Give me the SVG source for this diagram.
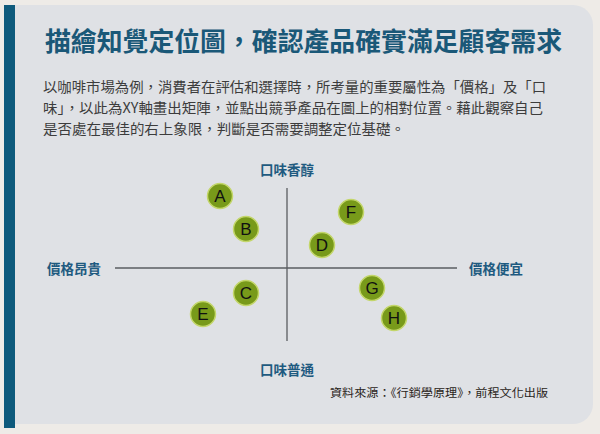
<svg xmlns="http://www.w3.org/2000/svg" width="600" height="434" viewBox="0 0 600 434">
<style>
.title{font-family:"Noto Sans CJK TC","Noto Sans CJK SC",sans-serif;font-weight:700;font-size:26px;fill:#1a5878}
.body{font-family:"Noto Sans CJK TC","Noto Sans CJK SC",sans-serif;font-size:14px;fill:#3c3c3c}
.axl{font-family:"Noto Sans CJK TC","Noto Sans CJK SC",sans-serif;font-weight:700;font-size:13.5px;fill:#1e5a80}
.src{font-family:"Noto Sans CJK TC","Noto Sans CJK SC",sans-serif;font-size:11.5px;fill:#2a2420}
.dot circle{fill:#789a1a;stroke:#c3d66a;stroke-width:1.5}
.dot text{font-family:"Liberation Sans",Arial,sans-serif;font-size:17px;fill:#111;text-anchor:middle}
.axis{stroke:#5a5c60;stroke-width:1.3;fill:none}
</style>
<rect x="0" y="0" width="600" height="434" fill="#eeebe7"/>
<path d="M5 5 H573 A20 20 0 0 1 593 25 V404 A20 20 0 0 1 573 424 H5 Z" fill="#dfe1e5"/>
<rect x="4" y="5" width="11" height="423" fill="#0e5a7c"/>
<text class="title" x="45" y="51" textLength="517" lengthAdjust="spacingAndGlyphs">描繪知覺定位圖，確認產品確實滿足顧客需求</text>
<text class="body" x="43" y="91.5" textLength="503" lengthAdjust="spacingAndGlyphs">以咖啡市場為例，消費者在評估和選擇時，所考量的重要屬性為「價格」及「口</text>
<text class="body" x="43" y="112.5" textLength="500" lengthAdjust="spacingAndGlyphs">味」，以此為XY軸畫出矩陣，並點出競爭產品在圖上的相對位置。藉此觀察自己</text>
<text class="body" x="43" y="133.5" textLength="362" lengthAdjust="spacingAndGlyphs">是否處在最佳的右上象限，判斷是否需要調整定位基礎。</text>
<g id="connectors">
<line class="axis" x1="115" y1="268" x2="457" y2="268"/>
<line class="axis" x1="287" y1="188" x2="287" y2="341"/>
</g>
<g id="axis-labels">
<text class="axl" x="287" y="175" text-anchor="middle">口味香醇</text>
<text class="axl" x="287" y="375" text-anchor="middle">口味普通</text>
<text class="axl" x="47" y="274">價格昂貴</text>
<text class="axl" x="469" y="274">價格便宜</text>
</g>
<g id="A" class="dot"><circle cx="220" cy="196" r="12.5"/><text x="220" y="202">A</text></g>
<g id="B" class="dot"><circle cx="246" cy="229" r="12.5"/><text x="246" y="235">B</text></g>
<g id="F" class="dot"><circle cx="351" cy="212" r="12.5"/><text x="351" y="218">F</text></g>
<g id="D" class="dot"><circle cx="322" cy="245" r="12.5"/><text x="322" y="251">D</text></g>
<g id="C" class="dot"><circle cx="246" cy="293" r="12.5"/><text x="246" y="299">C</text></g>
<g id="E" class="dot"><circle cx="203" cy="314" r="12.5"/><text x="203" y="320">E</text></g>
<g id="G" class="dot"><circle cx="372" cy="288" r="12.5"/><text x="372" y="294">G</text></g>
<g id="H" class="dot"><circle cx="394" cy="318" r="12.5"/><text x="394" y="324">H</text></g>
<text class="src" x="330" y="397" textLength="218" lengthAdjust="spacingAndGlyphs">資料來源：《行銷學原理》，前程文化出版</text>
</svg>
